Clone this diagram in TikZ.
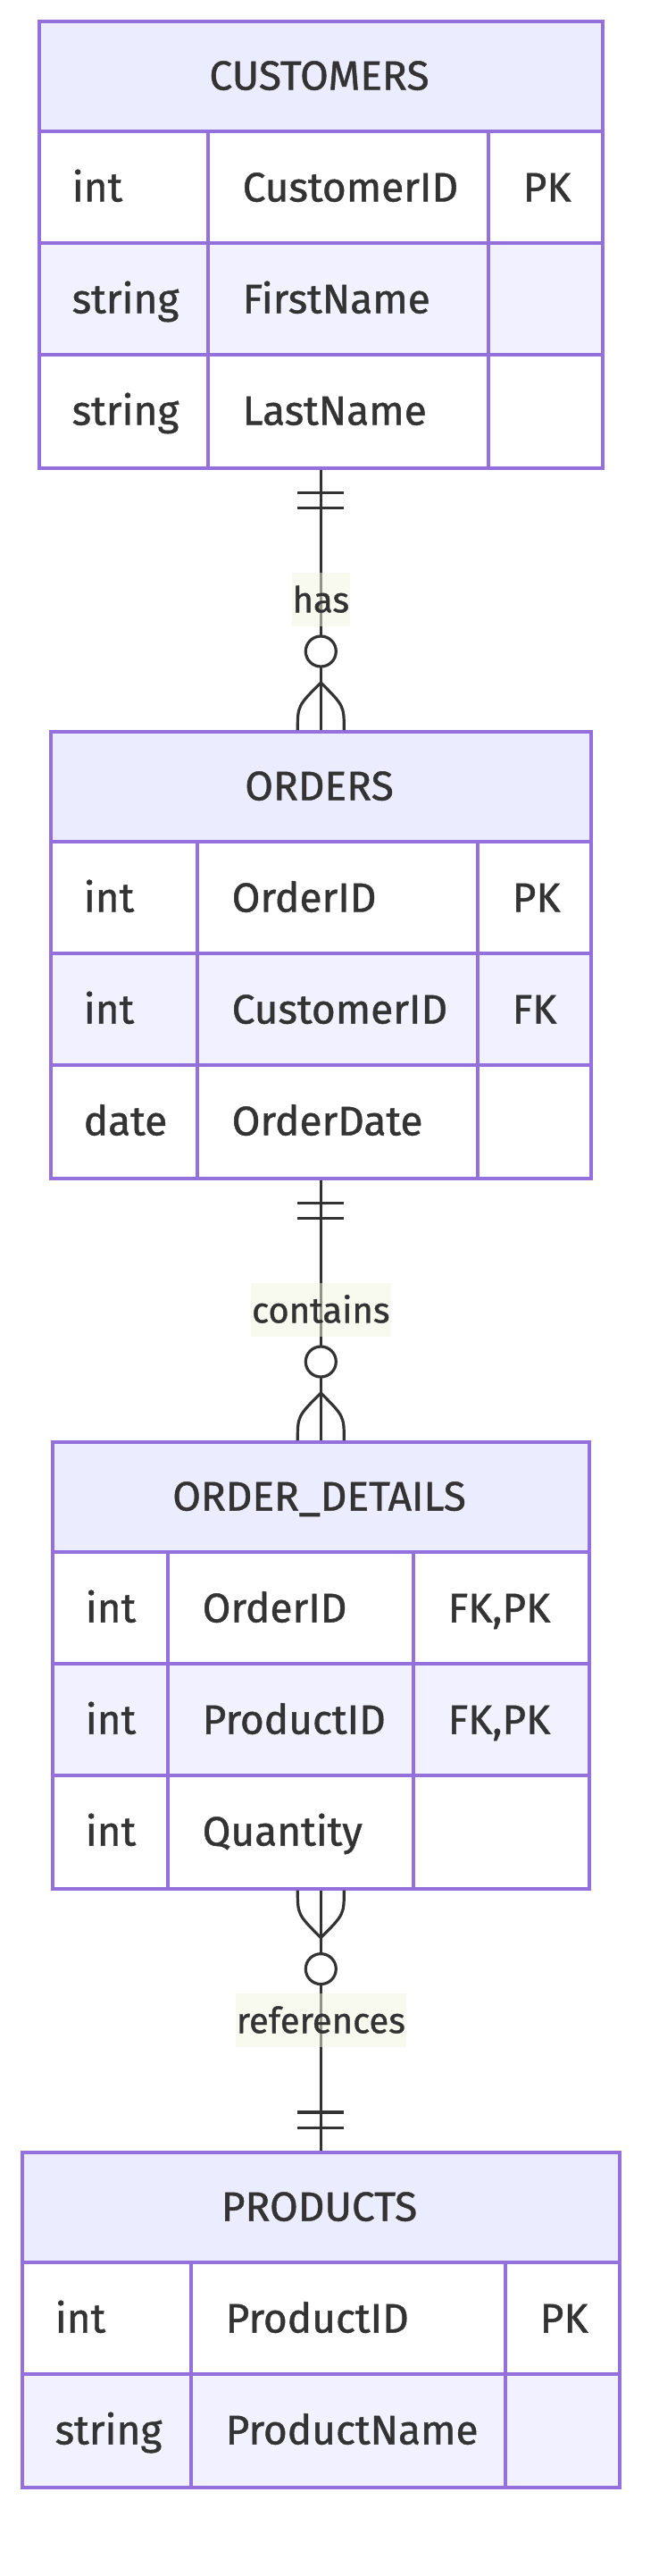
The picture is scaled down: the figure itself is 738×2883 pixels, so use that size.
\documentclass[tikz,border=0pt]{standalone}
\usepackage{fontspec}
\setmainfont{Fira Sans}[RawFeature={embolden=1.0}]
\usetikzlibrary{calc}
\definecolor{bord}{HTML}{9370DB}
\definecolor{hdrfill}{HTML}{ECECFF}
\definecolor{rowfill}{HTML}{F2F1FF}
\definecolor{ink}{HTML}{333333}
\definecolor{lblfill}{HTML}{F2F6E0}
\begin{document}
\begin{tikzpicture}[x=1pt,y=-1pt,
  tablebox/.style={draw=bord, line width=3.6pt, inner sep=0pt, anchor=north west},
  gridline/.style={draw=bord, line width=3.6pt},
  celltext/.style={inner sep=0pt, anchor=base west, text=ink, font=\fontsize{46}{55}\selectfont},
  titletext/.style={inner sep=0pt, anchor=base, text=ink, font=\fontsize{46}{55}\selectfont},
  rel/.style={draw=ink, line width=3.2pt},
  lbl/.style={fill=lblfill, fill opacity=0.5, text opacity=1, text=ink, inner xsep=1pt, inner ysep=0pt,
              minimum height=60pt, text height=28pt, text depth=0pt, font=\fontsize{40}{48}\selectfont}
]
\useasboundingbox (0,0) rectangle (738,2883);
\fill[white] (0,0) rectangle (738,2883);

% ---------- CUSTOMERS ----------
\fill[hdrfill] (42,22) rectangle (673,147);
\fill[white] (42,147) rectangle (673,272);
\fill[rowfill] (42,272) rectangle (673,397);
\fill[white] (42,397) rectangle (673,522);
\draw[gridline] (42,147) -- (673,147) (42,272) -- (673,272) (42,397) -- (673,397)
  (233,147) -- (233,522) (547,147) -- (547,522);
\node[tablebox, minimum width=631pt, minimum height=500pt] (customers) at (42,22) {};
\node[titletext] (customers-title) at (357.5,100.5) {CUSTOMERS};
\node[celltext] (c-t1) at (80.5,225.5) {int};
\node[celltext] (c-n1) at (271.5,225.5) {CustomerID};
\node[celltext] (c-k1) at (585.5,225.5) {PK};
\node[celltext] (c-t2) at (80.5,350.5) {string};
\node[celltext] (c-n2) at (271.5,350.5) {FirstName};
\node[celltext] (c-t3) at (80.5,475.5) {string};
\node[celltext] (c-n3) at (271.5,475.5) {LastName};

% ---------- ORDERS ----------
\fill[hdrfill] (55,817) rectangle (660,942);
\fill[white] (55,942) rectangle (660,1067);
\fill[rowfill] (55,1067) rectangle (660,1192);
\fill[white] (55,1192) rectangle (660,1317);
\draw[gridline] (55,942) -- (660,942) (55,1067) -- (660,1067) (55,1192) -- (660,1192)
  (221,942) -- (221,1317) (535,942) -- (535,1317);
\node[tablebox, minimum width=605pt, minimum height=500pt] (orders) at (55,817) {};
\node[titletext] (orders-title) at (357.5,895.5) {ORDERS};
\node[celltext] (o-t1) at (93.5,1020.5) {int};
\node[celltext] (o-n1) at (259.5,1020.5) {OrderID};
\node[celltext] (o-k1) at (573.5,1020.5) {PK};
\node[celltext] (o-t2) at (93.5,1145.5) {int};
\node[celltext] (o-n2) at (259.5,1145.5) {CustomerID};
\node[celltext] (o-k2) at (573.5,1145.5) {FK};
\node[celltext] (o-t3) at (93.5,1270.5) {date};
\node[celltext] (o-n3) at (259.5,1270.5) {OrderDate};

% ---------- ORDER_DETAILS ----------
\fill[hdrfill] (57,1612) rectangle (658,1737);
\fill[white] (57,1737) rectangle (658,1862);
\fill[rowfill] (57,1862) rectangle (658,1987);
\fill[white] (57,1987) rectangle (658,2112);
\draw[gridline] (57,1737) -- (658,1737) (57,1862) -- (658,1862) (57,1987) -- (658,1987)
  (188,1737) -- (188,2112) (463,1737) -- (463,2112);
\node[tablebox, minimum width=601pt, minimum height=500pt] (details) at (57,1612) {};
\node[titletext] (details-title) at (357.5,1690.5) {ORDER\_DETAILS};
\node[celltext] (d-t1) at (95.5,1815.5) {int};
\node[celltext] (d-n1) at (226.5,1815.5) {OrderID};
\node[celltext] (d-k1) at (501.5,1815.5) {FK,PK};
\node[celltext] (d-t2) at (95.5,1940.5) {int};
\node[celltext] (d-n2) at (226.5,1940.5) {ProductID};
\node[celltext] (d-k2) at (501.5,1940.5) {FK,PK};
\node[celltext] (d-t3) at (95.5,2065.5) {int};
\node[celltext] (d-n3) at (226.5,2065.5) {Quantity};

% ---------- PRODUCTS ----------
\fill[hdrfill] (23,2407) rectangle (692,2532);
\fill[white] (23,2532) rectangle (692,2657);
\fill[rowfill] (23,2657) rectangle (692,2782);
\draw[gridline] (23,2532) -- (692,2532) (23,2657) -- (692,2657)
  (214,2532) -- (214,2782) (566,2532) -- (566,2782);
\node[tablebox, minimum width=669pt, minimum height=375pt] (products) at (23,2407) {};
\node[titletext] (products-title) at (357.5,2485.5) {PRODUCTS};
\node[celltext] (p-t1) at (61.5,2610.5) {int};
\node[celltext] (p-n1) at (252.5,2610.5) {ProductID};
\node[celltext] (p-k1) at (604.5,2610.5) {PK};
\node[celltext] (p-t2) at (61.5,2735.5) {string};
\node[celltext] (p-n2) at (252.5,2735.5) {ProductName};

% ---------- CUSTOMERS ||--o{ ORDERS ----------
\draw[rel] (customers.south) -- (orders.north);
\draw[rel] ($(customers.south)+(-26,25.5)$) -- ++(52,0);
\draw[rel] ($(customers.south)+(-26,43)$) -- ++(52,0);
\draw[rel] ($(orders.north)+(-26,0)$) .. controls ($(orders.north)+(-26,-27)$) .. ($(orders.north)+(0,-53)$)
  .. controls ($(orders.north)+(26,-27)$) .. ($(orders.north)+(26,0)$);
\draw[rel, fill=white] ($(orders.north)+(0,-88)$) circle[radius=17pt];
\node[lbl] (has) at ($(customers.south)!0.5!(orders.north)$) {has};

% ---------- ORDERS ||--o{ ORDER_DETAILS ----------
\draw[rel] (orders.south) -- (details.north);
\draw[rel] ($(orders.south)+(-26,25.5)$) -- ++(52,0);
\draw[rel] ($(orders.south)+(-26,43)$) -- ++(52,0);
\draw[rel] ($(details.north)+(-26,0)$) .. controls ($(details.north)+(-26,-27)$) .. ($(details.north)+(0,-53)$)
  .. controls ($(details.north)+(26,-27)$) .. ($(details.north)+(26,0)$);
\draw[rel, fill=white] ($(details.north)+(0,-88)$) circle[radius=17pt];
\node[lbl] (contains) at ($(orders.south)!0.5!(details.north)$) {contains};

% ---------- ORDER_DETAILS }o--|| PRODUCTS ----------
\draw[rel] (details.south) -- (products.north);
\draw[rel] ($(details.south)+(-26,0)$) .. controls ($(details.south)+(-26,27)$) .. ($(details.south)+(0,53)$)
  .. controls ($(details.south)+(26,27)$) .. ($(details.south)+(26,0)$);
\draw[rel, fill=white] ($(details.south)+(0,88)$) circle[radius=17pt];
\draw[rel] ($(products.north)+(-26,-25.5)$) -- ++(52,0);
\draw[rel] ($(products.north)+(-26,-43)$) -- ++(52,0);
\node[lbl] (references) at ($(details.south)!0.5!(products.north)$) {references};
\end{tikzpicture}
\end{document}
